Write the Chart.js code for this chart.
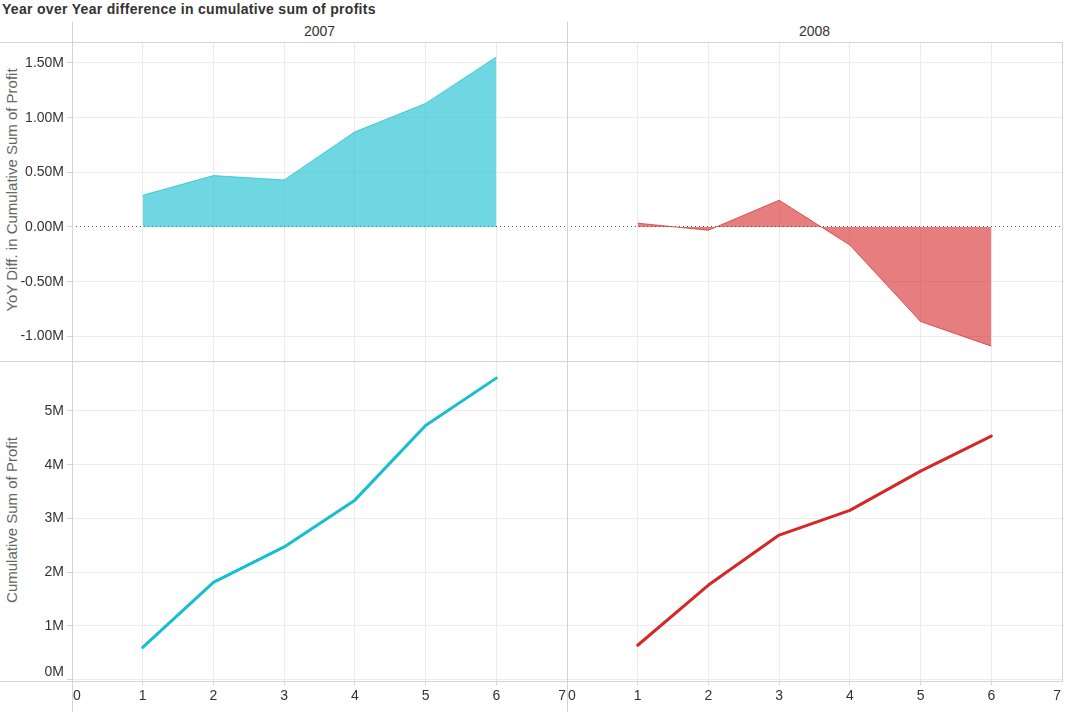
<!DOCTYPE html>
<html>
<head>
<meta charset="utf-8">
<script src="https://cdn.jsdelivr.net/npm/chart.js@4.4.1/dist/chart.umd.min.js"></script>
<style>
  body { margin: 0; background: #fff; font-family: 'Liberation Sans', Arial, sans-serif; }
  #page { position: relative; width: 1065px; height: 712px; overflow: hidden; }
  .abs { position: absolute; }
  .pane { position: absolute; }
  .hl { position: absolute; height: 1px; background: #d4d4d4; z-index: 5; }
  .vl { position: absolute; width: 1px; background: #d4d4d4; z-index: 5; }
  #title { left: 2px; top: 1px; font-weight: bold; font-size: 14px; letter-spacing: 0.3px; color: #333; }
  .colhead { top: 23px; font-size: 14px; color: #333; width: 495px; text-align: center; }
  .ytitle { font-size: 15px; color: #666; white-space: nowrap; transform: translate(-50%, -50%) rotate(-90deg); }
</style>
</head>
<body>
<div id="page">
  <div id="title" class="abs">Year over Year difference in cumulative sum of profits</div>
  <div class="abs colhead" style="left:72px">2007</div>
  <div class="abs colhead" style="left:567px">2008</div>
  <div class="abs ytitle" style="left:11px; top:190px">YoY Diff. in Cumulative Sum of Profit</div>
  <div class="abs ytitle" style="left:11px; top:520px">Cumulative Sum of Profit</div>

  <div class="pane" style="left:0; top:42px; width:567px; height:320px"><canvas id="yoy2007"></canvas></div>
  <div class="pane" style="left:567px; top:42px; width:495px; height:320px"><canvas id="yoy2008"></canvas></div>
  <div class="pane" style="left:0; top:362px; width:567px; height:350px"><canvas id="cum2007"></canvas></div>
  <div class="pane" style="left:567px; top:362px; width:495px; height:350px"><canvas id="cum2008"></canvas></div>

  <div class="hl" style="left:0; top:42px; width:1062px"></div>
  <div class="hl" style="left:0; top:361px; width:1062px"></div>
  <div class="hl" style="left:0; top:681px; width:1062px"></div>
  <div class="vl" style="left:72px; top:22px; height:690px"></div>
  <div class="vl" style="left:567px; top:22px; height:690px"></div>
  <div class="vl" style="left:1062px; top:42px; height:640px"></div>
</div>
<script>
const periods = [1, 2, 3, 4, 5, 6];
const years = ['2007', '2008'];
// values in millions
const yoyDiff2007 = [0.29, 0.47, 0.43, 0.87, 1.13, 1.555];
const yoyDiff2008 = [0.035, -0.03, 0.245, -0.165, -0.865, -1.09];
const cumProfit2007 = [0.60, 1.81, 2.47, 3.34, 4.73, 5.61];
const cumProfit2008 = [0.64, 1.76, 2.69, 3.15, 3.88, 4.53];
const xTicks = [0, 1, 2, 3, 4, 5, 6, 7];
const yoyTicks = [-1.0, -0.5, 0, 0.5, 1.0, 1.5];
const cumTicks = [0, 1, 2, 3, 4, 5];

const CYAN = '#17becf';
const RED = '#d62728';
const GRID = '#ececec';
const AXIS = '#d4d4d4';
const TICK_FONT = { family: "'Liberation Sans', Arial, sans-serif", size: 14 };

const toPoints = (vals) => periods.map((p, i) => ({ x: p, y: vals[i] }));

// nudge the edge labels inside the pane like the original
const edgeLabels = {
  id: 'edgeLabels',
  beforeDraw(chart) {
    const xs = chart.scales.x;
    if (xs.options.ticks.display) {
      const items = xs.getLabelItems();
      if (items.length) {
        items[0].options.textAlign = 'left';
        items[0].options.translation[0] += 1;
        const last = items[items.length - 1];
        last.options.textAlign = 'right';
        last.options.translation[0] -= 1;
      }
    }
    const ys = chart.scales.y;
    if (ys.options.ticks.display && ys.options.min > -0.5) {
      const items = ys.getLabelItems();
      if (items.length) items[0].options.translation[1] -= 8;
    }
  }
};

const makeChart = (id, ds, opts) => {
  const { yMin, yMax, yTickVals, fmt, showY, showX } = opts;
  return new Chart(document.getElementById(id), {
    type: 'line',
    data: { datasets: [ds] },
    options: {
      responsive: true,
      maintainAspectRatio: false,
      animation: false,
      layout: { padding: 0 },
      plugins: { legend: { display: false }, tooltip: { enabled: false } },
      scales: {
        x: {
          type: 'linear', min: 0, max: 7,
          afterBuildTicks: (s) => { s.ticks = xTicks.map((v) => ({ value: v })); },
          ticks: { display: showX, color: '#333', font: TICK_FONT, padding: 3, maxRotation: 0, autoSkip: false },
          grid: { color: GRID, drawTicks: showX, tickColor: AXIS, tickLength: 4 },
          border: { display: false },
          afterFit: (s) => { s.height = showX ? 31 : 0; s.paddingLeft = 0; s.paddingRight = 0; }
        },
        y: {
          min: yMin, max: yMax,
          afterBuildTicks: (s) => { s.ticks = yTickVals.map((v) => ({ value: v })); },
          ticks: { display: showY, color: '#333', font: TICK_FONT, padding: 3, callback: fmt, autoSkip: false },
          grid: {
            color: (c) => (c.tick && c.tick.value === 0 && yMin < -0.5) ? '#555' : GRID,
            drawTicks: showY, tickColor: AXIS, tickLength: 5
          },
          border: { display: false, dash: (c) => (c.tick && c.tick.value === 0 && yMin < -0.5) ? [1, 3] : [] },
          afterFit: (s) => { s.width = showY ? 72 : 0; s.paddingTop = 0; s.paddingBottom = 0; }
        }
      }
    },
    plugins: [edgeLabels]
  });
};

const areaSet = (vals, color, fill) => ({
  data: toPoints(vals), fill: 'origin', backgroundColor: fill, borderColor: color,
  borderWidth: 1, pointRadius: 0, tension: 0
});
const lineSet = (vals, color) => ({
  data: toPoints(vals), fill: false, borderColor: color, borderWidth: 3,
  pointRadius: 0, tension: 0, borderCapStyle: 'round', borderJoinStyle: 'round'
});

const yoyFmt = (v) => v.toFixed(2) + 'M';
const cumFmt = (v) => v + 'M';

makeChart('yoy2007', areaSet(yoyDiff2007, 'rgba(23,190,207,0.7)', 'rgba(23,190,207,0.62)'),
  { yMin: -1.235, yMax: 1.692, yTickVals: yoyTicks, fmt: yoyFmt, showY: true, showX: false });
makeChart('yoy2008', areaSet(yoyDiff2008, 'rgba(214,39,40,0.7)', 'rgba(214,39,40,0.6)'),
  { yMin: -1.235, yMax: 1.692, yTickVals: yoyTicks, fmt: yoyFmt, showY: false, showX: false });
makeChart('cum2007', lineSet(cumProfit2007, CYAN),
  { yMin: -0.025, yMax: 5.91, yTickVals: cumTicks, fmt: cumFmt, showY: true, showX: true });
makeChart('cum2008', lineSet(cumProfit2008, RED),
  { yMin: -0.025, yMax: 5.91, yTickVals: cumTicks, fmt: cumFmt, showY: false, showX: true });
</script>
</body>
</html>
